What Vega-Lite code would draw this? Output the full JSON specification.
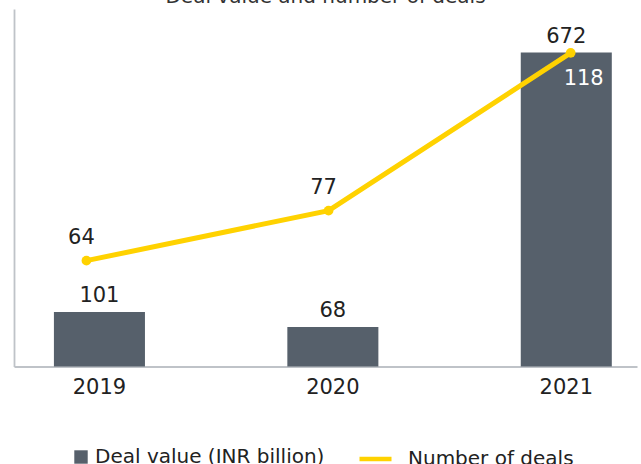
{
  "$schema": "https://vega.github.io/schema/vega-lite/v6.json",
  "width": 623,
  "height": 357.5,
  "autosize": "none",
  "padding": {"left": 14, "top": 9, "right": 4, "bottom": 97.5},
  "title": {"text": "Deal value and number of deals", "fontSize": 20, "fontWeight": "normal", "color": "#333333", "offset": 2, "anchor": "middle", "font": "DejaVu Sans"},
  "data": {"values": [
    {"year": "2019", "value": 101, "deals": 64},
    {"year": "2020", "value": 68, "deals": 77},
    {"year": "2021", "value": 672, "deals": 118}
  ]},
  "config": {"view": {"stroke": null}, "font": "DejaVu Sans"},
  "layer": [
    {
      "encoding": {
        "x": {"field": "year", "type": "ordinal", "scale": {"type": "band", "paddingInner": 0.61, "paddingOuter": 0.1395, "align": 0.613},
          "axis": {"title": null, "labelAngle": 0, "ticks": false, "labelFontSize": 21, "labelColor": "#222222", "labelPadding": 10, "domainColor": "#bfc3c8", "domainWidth": 1.8, "labelFont": "DejaVu Sans"}},
        "y": {"field": "value", "type": "quantitative", "scale": {"domain": [-19, 768], "nice": false, "zero": false},
          "axis": {"title": null, "labels": false, "ticks": false, "grid": false, "domainColor": "#bfc3c8", "domainWidth": 1.8}}
      },
      "layer": [
        {
          "mark": {"type": "bar"},
          "encoding": {
            "y2": {"datum": -19},
            "color": {"datum": "Deal value (INR billion)", "type": "nominal", "scale": {"range": ["#56606b"]},
              "legend": {"title": null, "orient": "none", "legendX": 57, "legendY": 438, "symbolType": "square", "symbolSize": 180, "symbolStrokeWidth": 0, "labelFontSize": 20, "labelColor": "#222222", "labelOffset": 4, "labelLimit": 0, "padding": 0, "labelFont": "DejaVu Sans"}}
          }
        },
        {
          "mark": {"type": "text", "fontSize": 21, "color": "#222222", "baseline": "alphabetic", "dy": -10, "font": "DejaVu Sans"},
          "encoding": {"text": {"field": "value", "type": "quantitative"}}
        }
      ]
    },
    {
      "encoding": {
        "x": {"field": "year", "type": "ordinal", "scale": {"type": "point", "padding": 0.2865, "align": 0.522}, "axis": null},
        "y": {"field": "deals", "type": "quantitative", "scale": {"domain": [36.5, 129.4], "nice": false, "zero": false}, "axis": null}
      },
      "layer": [
        {
          "mark": {"type": "line", "strokeWidth": 5},
          "encoding": {
            "stroke": {"datum": "Number of deals", "type": "nominal", "scale": {"range": ["#ffd200"]},
              "legend": {"title": null, "orient": "none", "legendX": 343, "legendY": 431.5, "symbolType": "stroke", "symbolSize": 1024, "symbolStrokeWidth": 4.5, "labelFontSize": 20, "labelColor": "#222222", "labelOffset": 14, "labelLimit": 0, "padding": 0, "labelFont": "DejaVu Sans"}}
          }
        },
        {
          "mark": {"type": "point", "filled": true, "size": 95, "color": "#ffd200", "opacity": 1},
          "encoding": {}
        },
        {
          "transform": [{"filter": "datum.year != '2021'"}],
          "mark": {"type": "text", "fontSize": 21, "color": "#222222", "baseline": "alphabetic", "dy": -17, "dx": -5, "font": "DejaVu Sans"},
          "encoding": {"text": {"field": "deals", "type": "quantitative"}}
        },
        {
          "transform": [{"filter": "datum.year == '2021'"}],
          "mark": {"type": "text", "fontSize": 21, "color": "#ffffff", "baseline": "alphabetic", "dy": 32, "dx": 13, "font": "DejaVu Sans"},
          "encoding": {"text": {"field": "deals", "type": "quantitative"}}
        }
      ]
    }
  ],
  "resolve": {"scale": {"x": "independent", "y": "independent"}}
}
